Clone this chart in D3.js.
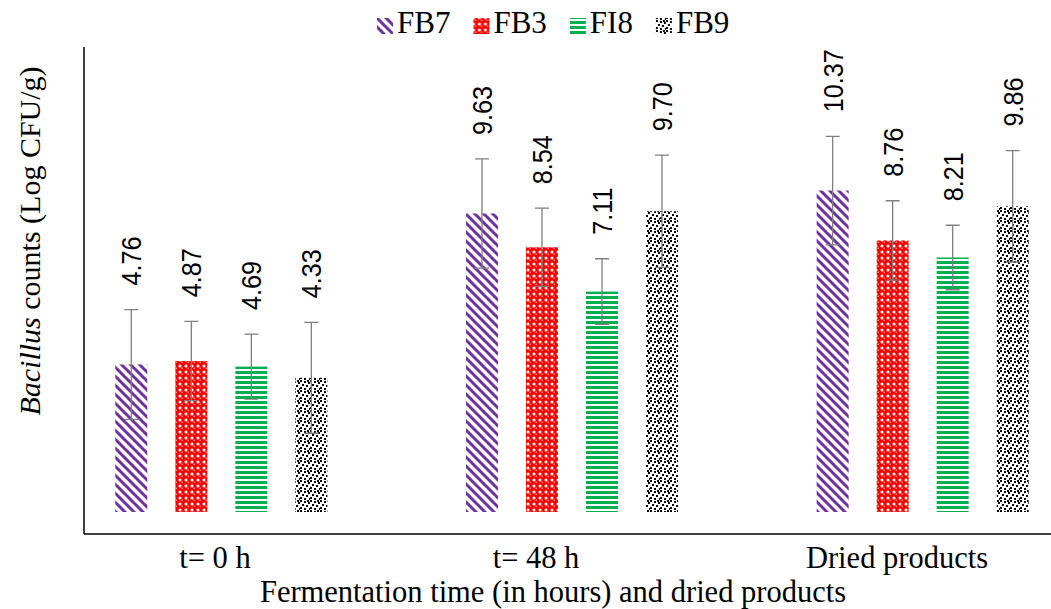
<html>
<head>
<script src="https://cdn.jsdelivr.net/npm/d3@7/dist/d3.min.js"></script>
<style>
  body { margin: 0; background: #fff; }
  svg { display: block; }
</style>
</head>
<body>
<svg id="chart" width="1051" height="609"></svg>
<script>
  var categories = ['t= 0 h', 't= 48 h', 'Dried products']
  var seriesNames = ['FB7', 'FB3', 'FI8', 'FB9']
  var fb7 = [4.76, 9.63, 10.37]
  var fb3 = [4.87, 8.54, 8.76]
  var fi8 = [4.69, 7.11, 8.21]
  var fb9 = [4.33, 9.70, 9.86]
  var fb7Err = [1.77, 1.76, 1.75]
  var fb3Err = [1.28, 1.26, 1.28]
  var fi8Err = [1.05, 1.06, 1.04]
  var fb9Err = [1.79, 1.81, 1.80]
  var valueLabels = [['4.76', '9.63', '10.37'], ['4.87', '8.54', '8.76'], ['4.69', '7.11', '8.21'], ['4.33', '9.70', '9.86']]

  var values = [fb7, fb3, fi8, fb9]
  var errors = [fb7Err, fb3Err, fi8Err, fb9Err]

  // flat table for the bars
  var rows = []
  seriesNames.forEach(function(s, si){
    categories.forEach(function(c, ci){
      rows.push({series: s, si: si, cat: c, v: values[si][ci], e: errors[si][ci], label: valueLabels[si][ci]})
    })
  })

  var svg = d3.select('#chart')
  var serif = '"Liberation Serif", "Times New Roman", serif'
  var sans = '"Liberation Sans", Arial, sans-serif'

  // patterns
  var defs = svg.append('defs')

  var p1 = defs.append('pattern').attr('id', 'pat-FB7').attr('patternUnits', 'userSpaceOnUse')
    .attr('width', 9).attr('height', 9)
  p1.append('rect').attr('width', 9).attr('height', 9).attr('fill', '#fff')
  p1.append('path').attr('d', 'M-2,-2 L11,11 M-2,7 L2,11 M7,-2 L11,2')
    .attr('stroke', '#7030a0').attr('stroke-width', 3)

  var p2 = defs.append('pattern').attr('id', 'pat-FB3').attr('patternUnits', 'userSpaceOnUse')
    .attr('width', 6).attr('height', 6)
  p2.append('rect').attr('width', 6).attr('height', 6).attr('fill', '#ff0000')
  ;[[0,0],[6,0],[0,6],[6,6]].forEach(function(p){
    p2.append('circle').attr('cx', p[0]).attr('cy', p[1]).attr('r', 1.5).attr('fill', '#fff')
  })
  p2.append('circle').attr('cx', 2.2).attr('cy', 2.2).attr('r', 0.8).attr('fill', '#ffb0b0')

  var p3 = defs.append('pattern').attr('id', 'pat-FI8').attr('patternUnits', 'userSpaceOnUse')
    .attr('width', 5).attr('height', 5)
  p3.append('rect').attr('width', 5).attr('height', 5).attr('fill', '#fff')
  p3.append('rect').attr('y', 1).attr('width', 5).attr('height', 3).attr('fill', '#00b050')

  var p4 = defs.append('pattern').attr('id', 'pat-FB9').attr('patternUnits', 'userSpaceOnUse')
    .attr('width', 10).attr('height', 10)
  p4.append('rect').attr('width', 10).attr('height', 10).attr('fill', '#fff')
  ;[[0,0],[4,1],[8,2],[2,4],[6,5],[0,7],[4,8],[9,8],[7,0]].forEach(function(p){
    p4.append('rect').attr('x', p[0]).attr('y', p[1]).attr('width', 2).attr('height', 2).attr('fill', '#000')
  })

  // scales
  var x0 = d3.scaleBand().domain(categories).range([46, 1098]).padding(0)
  var x1 = d3.scaleBand().domain(seriesNames).range([-120, 120]).paddingInner(0.467).paddingOuter(0.233)
  var y = d3.scaleLinear().domain([0, 15]).range([512, 47])
  var xLabel = d3.scaleOrdinal().domain(categories).range([215, 536, 897])

  function cx(d){ return x0(d.cat) + x0.bandwidth() / 2 + x1(d.series) + x1.bandwidth() / 2 }

  // bars
  svg.append('g').selectAll('rect')
    .data(rows)
    .enter()
    .append('rect')
    .attr('x', function(d){ return x0(d.cat) + x0.bandwidth() / 2 + x1(d.series) })
    .attr('y', function(d){ return y(d.v) })
    .attr('width', x1.bandwidth())
    .attr('height', function(d){ return y(0) - y(d.v) })
    .attr('fill', function(d){ return 'url(#pat-' + d.series + ')' })

  // error bars
  var eb = svg.append('g').attr('stroke', '#7f7f7f').attr('stroke-width', 1.3).attr('fill', 'none')
  eb.selectAll('path')
    .data(rows)
    .enter()
    .append('path')
    .attr('d', function(d){
      var c = cx(d), t = y(d.v + d.e), b = y(d.v - d.e)
      return 'M' + c + ',' + t + 'V' + b + 'M' + (c - 7) + ',' + t + 'H' + (c + 7) + 'M' + (c - 7) + ',' + b + 'H' + (c + 7)
    })

  // value labels
  svg.append('g').selectAll('text')
    .data(rows)
    .enter()
    .append('text')
    .attr('transform', function(d){
      return 'translate(' + (cx(d) + 10) + ',' + (y(d.v + d.e) - 24) + ') rotate(-90) scale(0.9,1)'
    })
    .attr('font-family', sans)
    .attr('font-size', 28)
    .attr('fill', '#000')
    .text(function(d){ return d.label })

  // axes lines
  svg.append('line').attr('x1', 84).attr('x2', 84).attr('y1', 47).attr('y2', 534)
    .attr('stroke', '#000').attr('stroke-width', 1.5)
  svg.append('line').attr('x1', 84).attr('x2', 1051).attr('y1', 534).attr('y2', 534)
    .attr('stroke', '#000').attr('stroke-width', 1.5)

  // category labels
  svg.append('g').selectAll('text')
    .data(categories)
    .enter()
    .append('text')
    .attr('x', function(d){ return xLabel(d) })
    .attr('y', 568)
    .attr('text-anchor', 'middle')
    .attr('font-family', serif)
    .attr('font-size', 30.5)
    .attr('fill', '#000')
    .text(function(d){ return d })

  // axis titles
  svg.append('text')
    .attr('x', 553).attr('y', 602)
    .attr('text-anchor', 'middle')
    .attr('font-family', serif).attr('font-size', 30.5).attr('fill', '#000')
    .text('Fermentation time (in hours) and dried products')

  var yt = svg.append('text')
    .attr('transform', 'translate(40,241) rotate(-90)')
    .attr('text-anchor', 'middle')
    .attr('font-family', serif).attr('font-size', 30).attr('fill', '#000')
  yt.append('tspan').attr('font-style', 'italic').text('Bacillus')
  yt.append('tspan').text(' counts (Log CFU/g)')

  // legend
  var lg = svg.append('g')
  var lx = 377
  seriesNames.forEach(function(s){
    var item = lg.append('g').attr('transform', 'translate(' + lx + ',0)')
    item.append('rect').attr('x', 0).attr('y', 18).attr('width', 16).attr('height', 16)
      .attr('fill', 'url(#pat-' + s + ')')
    var t = item.append('text').attr('x', 20).attr('y', 33)
      .attr('font-family', serif).attr('font-size', 31).attr('fill', '#000')
      .text(s)
    lx += 20 + t.node().getComputedTextLength() + 23
  })
</script>
</body>
</html>
